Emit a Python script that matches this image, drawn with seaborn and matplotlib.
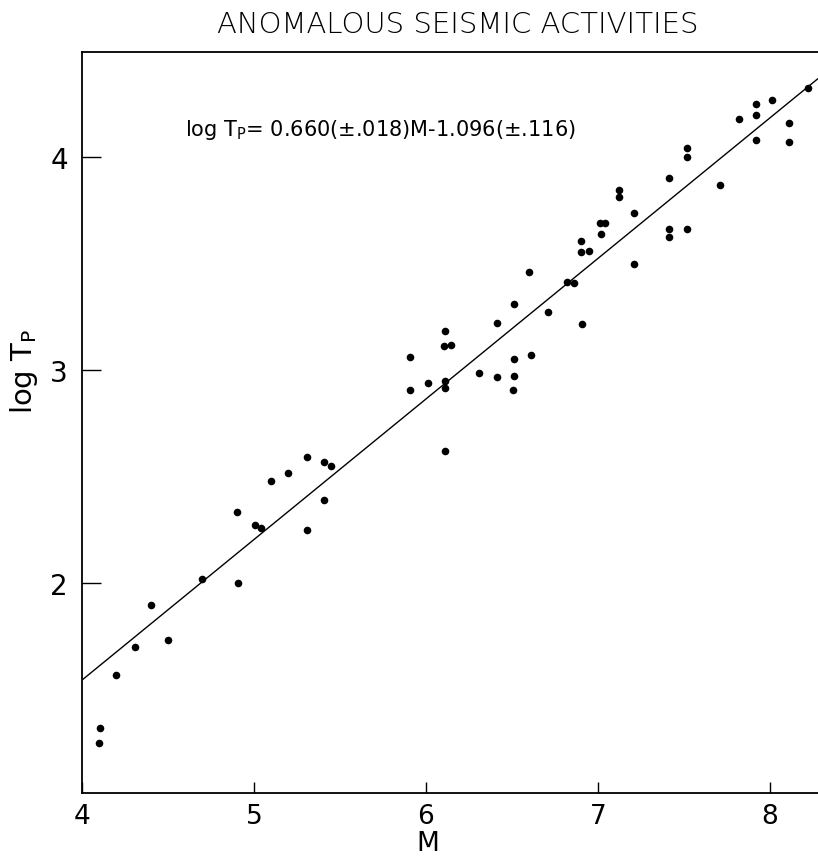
import seaborn as sns
import matplotlib.pyplot as plt
import numpy as np
import pandas as pd

# magnitude M and log of precursor time
mag = [4.10, 4.105, 4.20, 4.31, 4.40, 4.50, 4.70, 4.90, 4.905,
       5.006, 5.04, 5.10, 5.20, 5.31, 5.31, 5.405, 5.41, 5.45,
       5.907, 5.907, 6.01, 6.11, 6.105, 6.147, 6.11, 6.11, 6.11,
       6.31, 6.41, 6.41, 6.51, 6.51, 6.505, 6.51, 6.61, 6.60, 6.71,
       6.82, 6.86, 6.90, 6.90, 6.95, 6.907,
       7.01, 7.04, 7.02, 7.12, 7.12, 7.21, 7.21,
       7.415, 7.415, 7.415, 7.515, 7.52, 7.52, 7.71,
       7.82, 7.92, 7.92, 7.92, 8.01, 8.11, 8.11, 8.22]
log_tp = [1.25, 1.32, 1.567, 1.70, 1.895, 1.73, 2.02, 2.335, 2.00,
          2.27, 2.26, 2.48, 2.515, 2.59, 2.25, 2.39, 2.567, 2.55,
          3.06, 2.906, 2.94, 3.185, 3.114, 3.119, 2.95, 2.914, 2.618,
          2.985, 2.966, 3.22, 3.05, 2.97, 2.906, 3.31, 3.07, 3.46, 3.27,
          3.415, 3.41, 3.605, 3.554, 3.56, 3.215,
          3.69, 3.69, 3.64, 3.844, 3.81, 3.736, 3.496,
          3.90, 3.66, 3.626, 3.66, 4.044, 4.00, 3.87,
          4.18, 4.25, 4.196, 4.08, 4.27, 4.16, 4.07, 4.324]

# regression coefficients printed on the chart
slope = 0.660
intercept = -1.096

x_ticks = [4, 5, 6, 7, 8]
y_ticks = [2, 3, 4]

df = pd.DataFrame({"M": mag, "logTp": log_tp})

sns.set_style("white")
plt.rcParams['font.family'] = ['DejaVu Sans']
plt.rcParams['text.color'] = 'black'
plt.rcParams['axes.labelcolor'] = 'black'
plt.rcParams['xtick.color'] = 'black'
plt.rcParams['ytick.color'] = 'black'

fig = plt.figure(figsize=(8.18, 8.62), dpi=100)
ax = fig.add_axes([0.1002, 0.0789, 0.8998, 0.8596])

xlim = (4.0, 8.279)
line_x = np.array(xlim)
fit = pd.DataFrame({"M": line_x, "logTp": slope * line_x + intercept})
sns.lineplot(data=fit, x="M", y="logTp", color="black", lw=1.0, ax=ax)
sns.scatterplot(data=df, x="M", y="logTp", color="black", s=30,
                edgecolor="black", linewidth=0, ax=ax)

ax.set_xlim(*xlim)
ax.set_ylim(1.014, 4.493)
ax.set_xticks(x_ticks)
ax.set_yticks(y_ticks)
ax.set_xticklabels([str(t) for t in x_ticks])
ax.set_yticklabels([str(t) for t in y_ticks])
ax.tick_params(axis="x", direction="in", length=8, width=1, labelsize=19,
               pad=7, bottom=True)
ax.tick_params(axis="y", direction="in", length=14, width=1, labelsize=20,
               pad=10, left=True)

for side in ["left", "top", "bottom"]:
    ax.spines[side].set_color("black")
    ax.spines[side].set_linewidth(1.3)
ax.spines["right"].set_visible(False)

ax.set_xlabel("M", fontsize=19)
ax.xaxis.set_label_coords(0.47, -0.050)
ax.set_ylabel("log T$_{\\mathrm{P}}$", fontsize=21)
ax.yaxis.set_label_coords(-0.057, 0.57)

ax.text(4.6, 4.13, "log T$_{\\mathrm{P}}$= 0.660(±.018)M-1.096(±.116)",
        fontsize=15, ha="left", va="center")

fig.text(0.56, 0.971, "ANOMALOUS SEISMIC ACTIVITIES", fontsize=21,
         ha="center", va="center", color="black",
         family=["Liberation Sans Narrow", "DejaVu Sans"], fontweight="light")

fig.savefig("out.png", dpi=100)
plt.close(fig)
